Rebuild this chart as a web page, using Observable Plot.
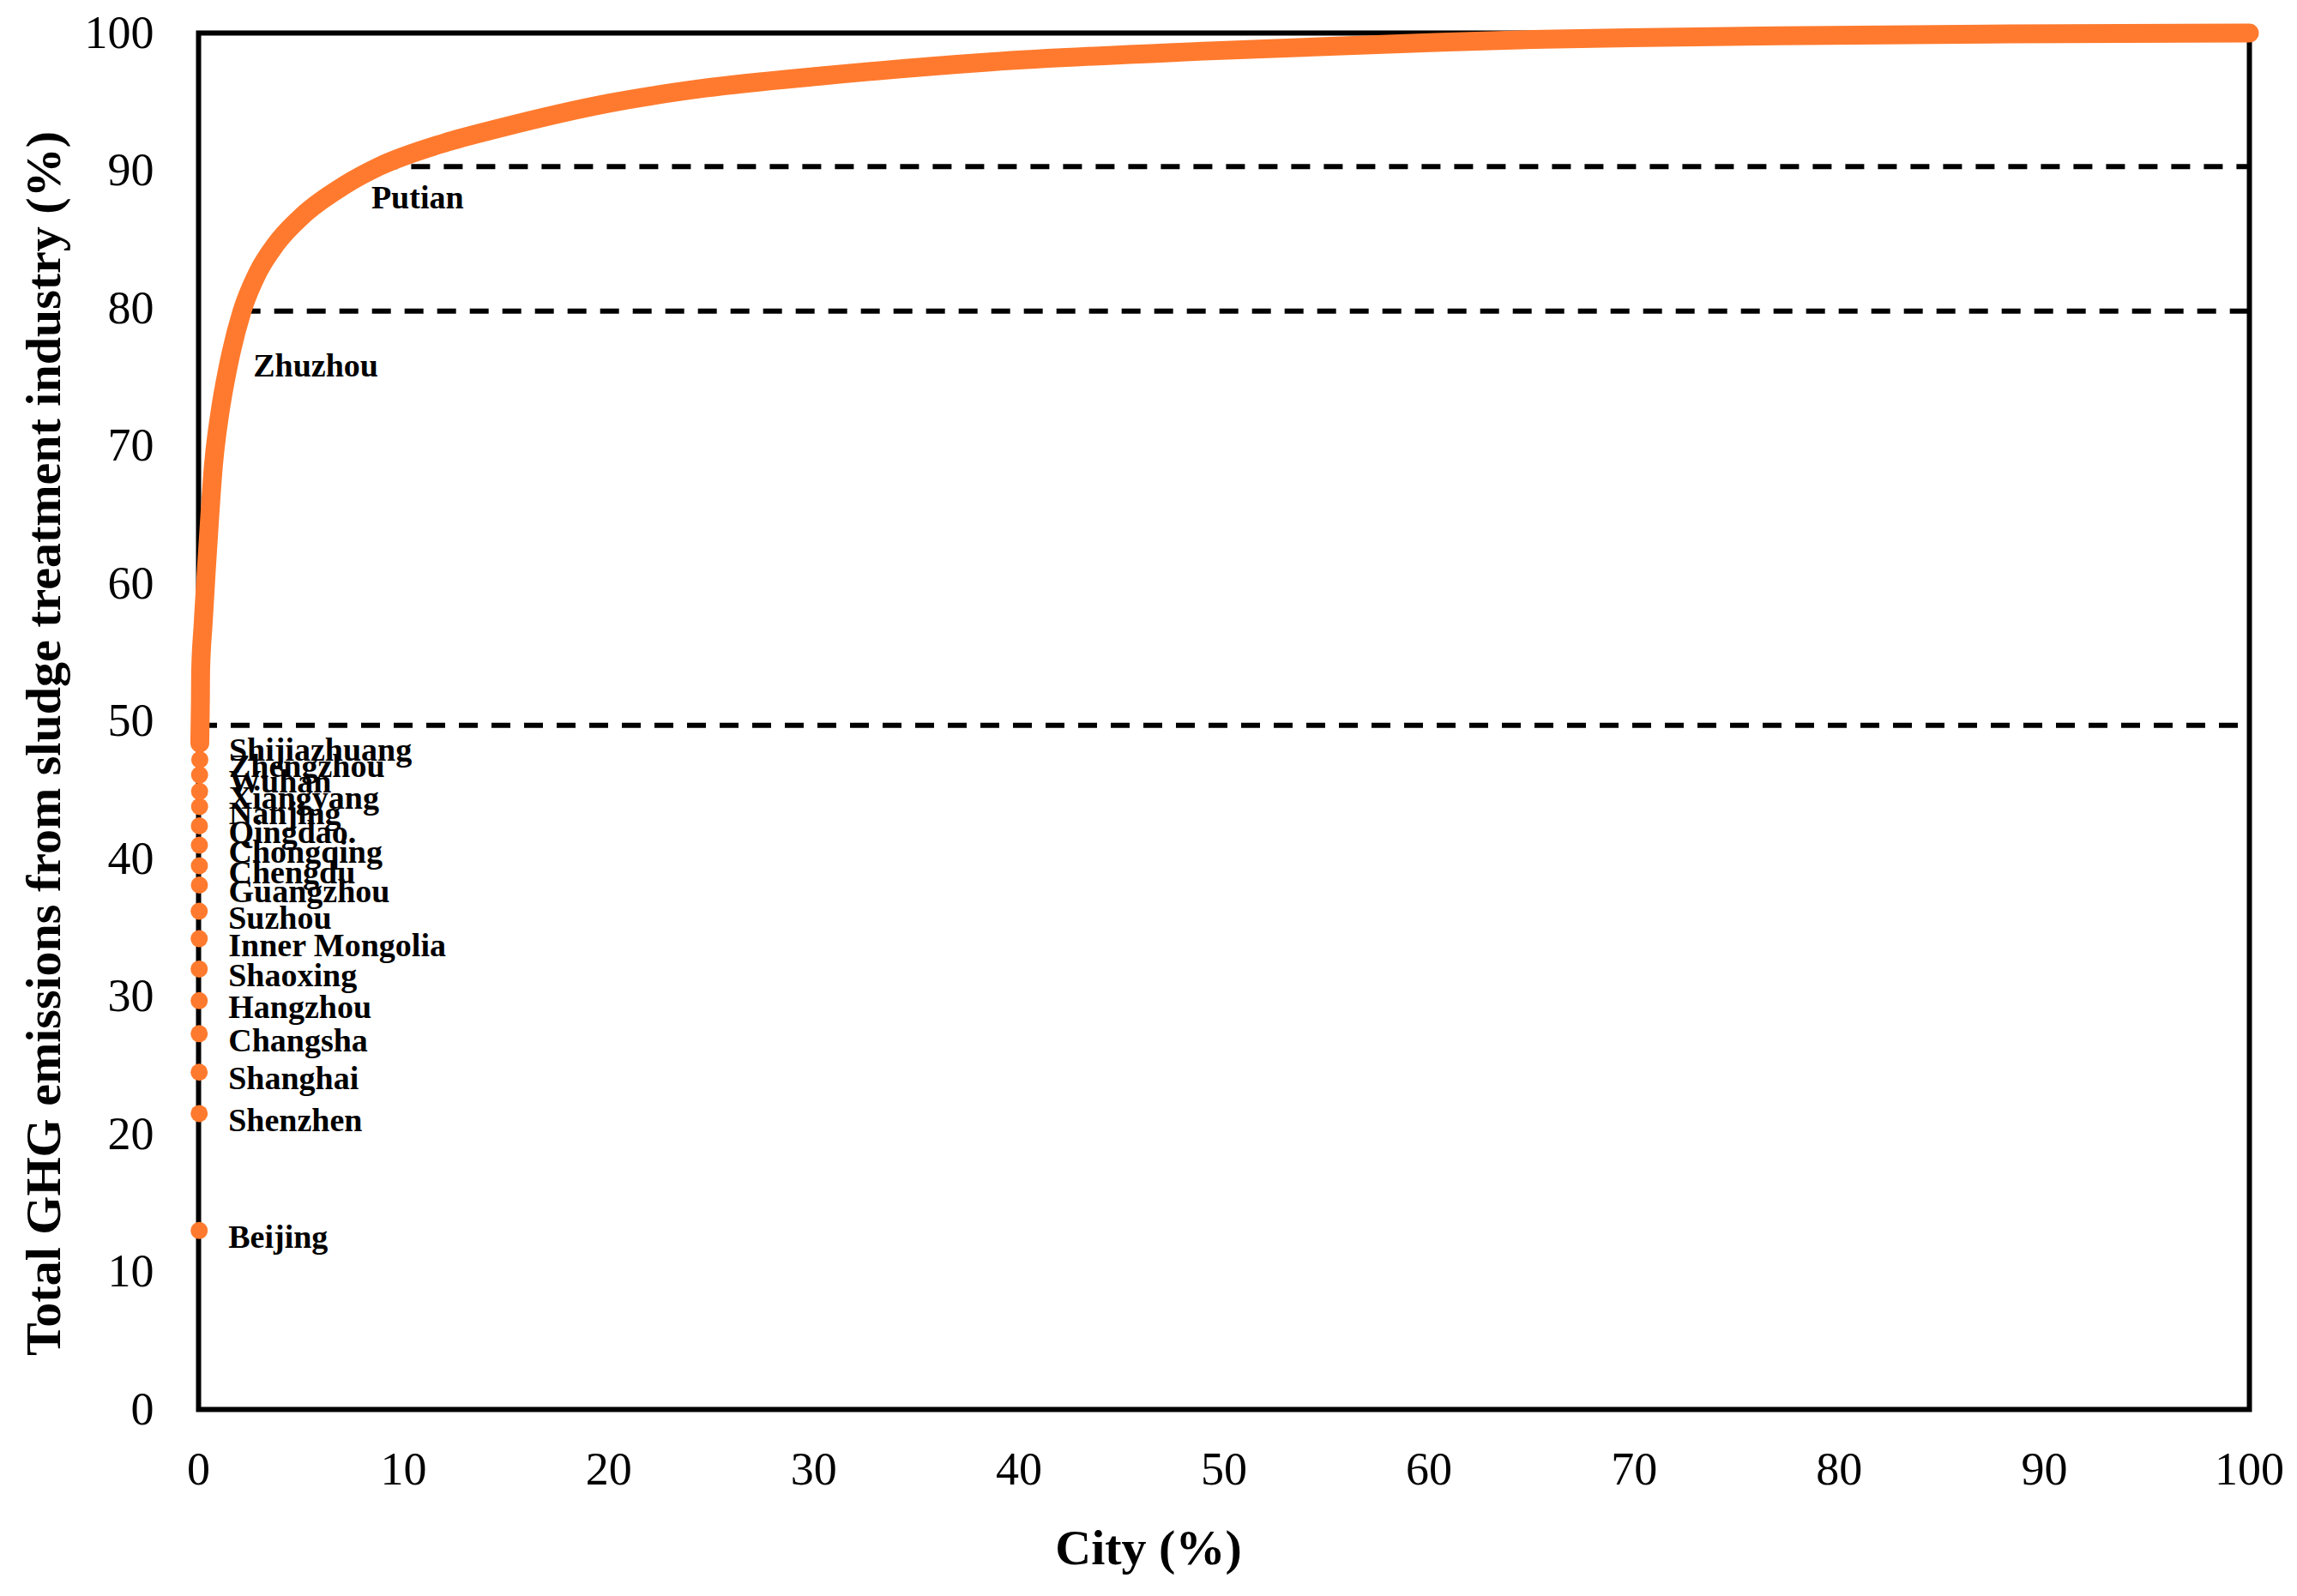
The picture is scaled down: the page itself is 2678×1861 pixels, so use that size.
<!DOCTYPE html>
<html>
<head>
<meta charset="utf-8">
<script src="https://cdn.jsdelivr.net/npm/d3@7"></script>
<script src="https://cdn.jsdelivr.net/npm/@observablehq/plot@0.6"></script>
<style>
  html, body { margin: 0; padding: 0; background: white; }
</style>
</head>
<body>
<div id="chart"></div>
<script>
// Labelled top cities (cumulative share of cities %, cumulative GHG %)
const cityNames = ["Beijing", "Shenzhen", "Shanghai", "Changsha", "Hangzhou", "Shaoxing",
  "Inner Mongolia", "Suzhou", "Guangzhou", "Chengdu", "Chongqing", "Qingdao.", "Nanjing",
  "Xiangyang", "Wuhan", "Zhengzhou", "Shijiazhuang"];
const cityX = [0.03, 0.03, 0.03, 0.03, 0.03, 0.03, 0.03, 0.03, 0.04, 0.04, 0.04, 0.04, 0.05, 0.05, 0.05, 0.06, 0.06];
const cityY = [13.0, 21.5, 24.5, 27.3, 29.7, 32.0, 34.2, 36.2, 38.1, 39.5, 41.0, 42.4, 43.8, 44.9, 46.1, 47.2, 48.4];

// Rest of the cumulative curve
const curveX = [0.06, 0.07, 0.08, 0.09, 0.10, 0.22, 0.38, 0.55, 0.72, 1.03, 1.42, 1.59, 2.12, 2.89, 3.79, 5.12, 7.07, 8.8, 11.95, 14.7, 20.0, 24.7, 30.5, 38.6, 49.3, 60.0, 65.6, 69.8, 77.0, 88.3, 100];
const curveY = [48.4, 49.4, 50.45, 51.5, 53.6, 57.0, 61.0, 65.0, 68.5, 72.3, 75.6, 76.8, 79.8, 82.6, 84.7, 86.8, 88.9, 90.3, 92.0, 93.1, 94.9, 96.0, 96.9, 97.9, 98.7, 99.3, 99.55, 99.65, 99.8, 99.93, 100];

// Threshold cities (50 %, 80 %, 90 %)
const thresholdNames = ["", "Zhuzhou", "Putian"];
const thresholdX = [0, 2.12, 8.8];
const thresholdY = [49.7, 79.8, 90.3];

const xTicks = [0, 10, 20, 30, 40, 50, 60, 70, 80, 90, 100];
const yTicks = [0, 10, 20, 30, 40, 50, 60, 70, 80, 90, 100];

const xTitle = "City (%)";
const yTitle = "Total GHG emissions from sludge treatment industry (%)";

const orange = "#FF7A2E";

const cities = cityNames.map((n, i) => ({name: n, x: cityX[i], y: cityY[i]}));
const curve = curveX.map((x, i) => ({x, y: curveY[i]}));
const thresholds = thresholdNames.map((n, i) => ({name: n, x: thresholdX[i], y: thresholdY[i]}));

const chart = Plot.plot({
  width: 2678,
  height: 1861,
  marginLeft: 231,
  marginRight: 56,
  marginTop: 38,
  marginBottom: 218,
  x: {domain: [0, 100]},
  y: {domain: [0, 100]},
  style: {
    fontFamily: "'Liberation Serif', 'Times New Roman', serif",
    fontSize: "54px",
    background: "white",
    color: "black"
  },
  marks: [
    Plot.frame({stroke: "black", strokeWidth: 6}),
    Plot.axisX({ticks: xTicks, tickSize: 0, tickPadding: 49, label: null, fontSize: 54, tickFormat: d => d}),
    Plot.axisY({ticks: yTicks, tickSize: 0, tickPadding: 52, label: null, fontSize: 54, tickFormat: d => d}),
    Plot.ruleY(thresholds, {y: "y", x1: "x", x2: 100, stroke: "black", strokeWidth: 6, strokeDasharray: "22,16"}),
    Plot.line(curve, {x: "x", y: "y", stroke: orange, strokeWidth: 22, strokeLinecap: "round", strokeLinejoin: "round", curve: "monotone-x"}),
    Plot.dot(cities, {x: "x", y: "y", r: 10, fill: orange, stroke: "none"}),
    Plot.text(cities, {x: "x", y: "y", text: "name", textAnchor: "start", dx: 34, dy: 8, fontWeight: "bold", fontSize: 38}),
    Plot.text(thresholds.filter(d => d.name === "Zhuzhou"), {x: "x", y: "y", text: "name", textAnchor: "start", dx: 13, dy: 64, fontWeight: "bold", fontSize: 38}),
    Plot.text(thresholds.filter(d => d.name === "Putian"), {x: "x", y: "y", text: "name", textAnchor: "start", dx: -9, dy: 37, fontWeight: "bold", fontSize: 38}),
    Plot.text([xTitle], {text: d => d, frameAnchor: "bottom", textAnchor: "middle", lineAnchor: "middle", dx: -88, dy: 162, fontWeight: "bold", fontSize: 58}),
    Plot.text([yTitle], {text: d => d, frameAnchor: "left", textAnchor: "middle", lineAnchor: "middle", dx: -180, dy: 26, rotate: -90, fontWeight: "bold", fontSize: 58})
  ]
});
document.getElementById("chart").appendChild(chart);
</script>
</body>
</html>
